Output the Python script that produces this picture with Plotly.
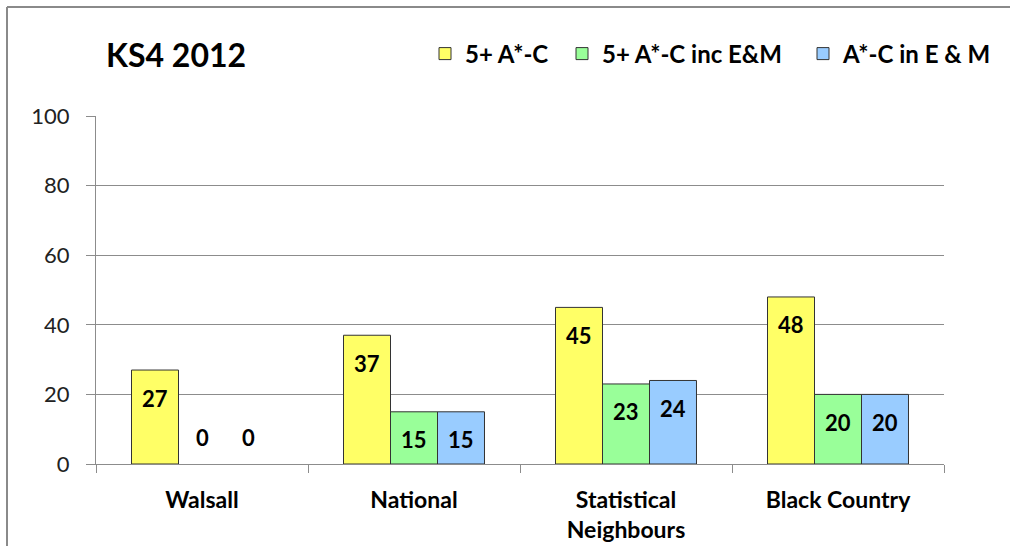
import plotly.graph_objects as go

categories = ["Walsall", "National", "Statistical<br>Neighbours", "Black Country"]
series_names = ["5+ A*-C", "5+ A*-C inc E&M", "A*-C in E & M"]
five_plus = [27, 37, 45, 48]
five_plus_em = [0, 15, 23, 20]
em_only = [0, 15, 24, 20]
series_values = [five_plus, five_plus_em, em_only]
colors = ["#FFFF66", "#99FF99", "#99CCFF"]
y_ticks = [0, 20, 40, 60, 80, 100]

FONT = "Lato"
BARGAP = 0.335
PLOT_W, PLOT_H = 848, 348
LEFT, BASE = 96, 464

# one legend per series so each entry can sit at its own spot in the header row
legend_ids = ["legend", "legend2", "legend3"]
legend_text_left = [467, 604, 845]

fig = go.Figure()
for name, vals, col, lid in zip(series_names, series_values, colors, legend_ids):
    fig.add_trace(go.Bar(
        x=categories,
        # zero results get no visible bar (only their label)
        y=[v if v > 0 else None for v in vals],
        name=name, legend=lid,
        marker=dict(color=col, line=dict(color="#333333", width=1)),
    ))

# value labels just inside the top of each bar (above the baseline for zero bars)
bw = (1 - BARGAP) / len(series_names)
annotations = []
for j, vals in enumerate(series_values):
    for i, v in enumerate(vals):
        annotations.append(dict(
            x=i + (j - 1) * bw, y=v, xref="x", yref="y",
            text=f"<b>{v}</b>", showarrow=False,
            yanchor="middle", yshift=-28 if v > 0 else 27,
            font=dict(family=FONT, size=22, color="#000000"),
        ))

# chart title, positioned in paper coordinates of the plot area
annotations.append(dict(
    x=(104 - LEFT) / PLOT_W, y=(BASE - 55) / PLOT_H, xref="paper", yref="paper",
    text="<b>KS4 2012</b>", showarrow=False, xanchor="left", yanchor="middle",
    font=dict(family=FONT, size=32, color="#000000"),
))

legend_style = dict(
    orientation="h", xanchor="left", y=(BASE - 54) / PLOT_H, yanchor="middle",
    font=dict(family=FONT, size=24, color="#000000", weight="bold"),
    itemwidth=30, bgcolor="rgba(0,0,0,0)", borderwidth=0,
)
legends = {}
for lid, tx in zip(legend_ids, legend_text_left):
    legends[lid] = dict(legend_style, x=(tx - 42 - LEFT) / PLOT_W)

fig.update_layout(
    width=1010, height=546,
    margin=dict(l=LEFT, r=1010 - LEFT - PLOT_W, t=BASE - PLOT_H, b=546 - BASE),
    paper_bgcolor="white", plot_bgcolor="white",
    barmode="group", bargap=BARGAP, bargroupgap=0,
    font=dict(family=FONT, color="#000000"),
    annotations=annotations,
    showlegend=True,
    **legends,
    xaxis=dict(
        type="category", automargin=False,
        showline=True, linecolor="#8C8C8C", linewidth=1,
        ticks="outside", tickson="boundaries", ticklen=8, tickcolor="#8C8C8C",
        ticklabelstandoff=15,
        tickfont=dict(family=FONT, size=23, color="#000000", weight="bold"),
        showgrid=False, zeroline=False,
    ),
    yaxis=dict(
        range=[0, 100], tickvals=y_ticks, automargin=False,
        showline=True, linecolor="#8C8C8C", linewidth=1,
        ticks="outside", ticklen=9, tickcolor="#8C8C8C",
        ticklabelstandoff=12,
        tickfont=dict(family=FONT, size=22, color="#222222"),
        showgrid=True, gridcolor="#8C8C8C", gridwidth=1, zeroline=False,
    ),
)

# outer chart frame (left and top edges)
fx = (7 - LEFT) / PLOT_W
fy = (BASE - 7) / PLOT_H
fig.add_shape(type="line", xref="paper", yref="paper",
              x0=fx, x1=fx, y0=fy, y1=(BASE - 560) / PLOT_H,
              line=dict(color="#8A8A8A", width=2))
fig.add_shape(type="line", xref="paper", yref="paper",
              x0=fx, x1=(1020 - LEFT) / PLOT_W, y0=fy, y1=fy,
              line=dict(color="#8A8A8A", width=2))

fig.write_html("out.html")
